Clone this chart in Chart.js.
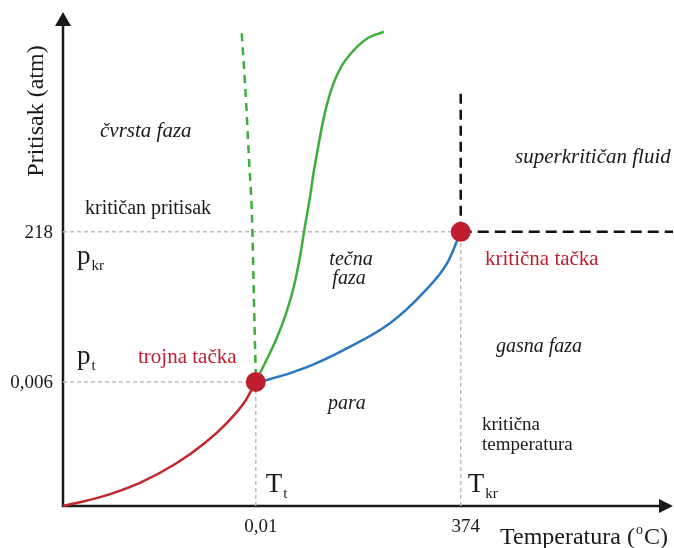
<!DOCTYPE html>
<html>
<head>
<meta charset="utf-8">
<script src="https://cdn.jsdelivr.net/npm/chart.js@4.4.1/dist/chart.umd.min.js"></script>
<style>
  html, body { margin: 0; padding: 0; background: #ffffff; }
  #wrap { width: 674px; height: 548px; position: relative; }
</style>
</head>
<body>
<div id="wrap"><canvas id="phase"></canvas></div>
<script>
// Schematic phase diagram of water; both axes run 0–100 in relative (not to scale) units.

// Characteristic points
const triplePoint = [{ x: 31.6, y: 25.1 }];
const criticalPoint = [{ x: 65.2, y: 55.5 }];

// Axis tick positions and their labels
const tempTickPos = [31.6, 65.2];
const tempTickLabels = ['0,01', '374'];
const pressTickPos = [55.5, 25.1];
const pressTickLabels = ['218', '0,006'];

// Sublimation curve (solid – vapour)
const sublimationCurve = [
  { x: 0, y: 0 }, { x: 6.1, y: 1.8 }, { x: 12.6, y: 4.7 }, { x: 18.4, y: 8.5 },
  { x: 23.3, y: 12.8 }, { x: 27.0, y: 17.0 }, { x: 29.8, y: 21.1 }, { x: 31.6, y: 25.1 }
];

// Vaporisation curve (liquid – vapour)
const vaporisationCurve = [
  { x: 31.6, y: 25.1 }, { x: 33.4, y: 25.5 }, { x: 40.0, y: 28.1 }, { x: 47.0, y: 32.2 },
  { x: 53.6, y: 37.0 }, { x: 59.0, y: 43.1 }, { x: 63.0, y: 49.2 }, { x: 65.2, y: 55.5 }
];

// Melting curve of an ordinary substance (solid – liquid)
const meltingCurve = [
  { x: 31.6, y: 25.1 }, { x: 33.1, y: 28.9 }, { x: 34.9, y: 33.6 }, { x: 36.6, y: 39.1 },
  { x: 37.9, y: 44.7 }, { x: 38.9, y: 50.8 }, { x: 39.7, y: 56.9 }, { x: 40.5, y: 62.6 },
  { x: 41.1, y: 67.6 }, { x: 41.8, y: 72.5 }, { x: 42.5, y: 77.1 }, { x: 43.3, y: 81.4 },
  { x: 44.3, y: 85.4 }, { x: 45.6, y: 88.9 }, { x: 47.4, y: 91.9 }, { x: 49.7, y: 94.5 },
  { x: 52.6, y: 96.0 }
];

// Melting curve of water (negative slope)
const waterMeltingCurve = [
  { x: 29.3, y: 95.7 }, { x: 30.0, y: 82.2 }, { x: 30.5, y: 70.0 },
  { x: 31.0, y: 57.9 }, { x: 31.3, y: 41.7 }, { x: 31.6, y: 26.5 }
];

// Boundaries of the supercritical region
const supercriticalTop = 84.2;
const supercriticalRight = 100;

const cp = criticalPoint[0];
const tp = triplePoint[0];

const guideStyle = { borderColor: '#bdbdbd', borderWidth: 1.5, borderDash: [4, 3] };
function guide(points) {
  return Object.assign({ data: points, showLine: true, pointRadius: 0, order: 4, clip: false }, guideStyle);
}
function curve(label, points, color, extra) {
  return Object.assign({
    label, data: points, showLine: true, pointRadius: 0, borderColor: color, borderWidth: 2.5,
    cubicInterpolationMode: 'monotone', order: 1, clip: false
  }, extra || {});
}

const SERIF = '"Liberation Serif", "Times New Roman", serif';

// Axes with arrow heads, tick labels and region annotations
const decorations = {
  id: 'decorations',
  beforeDatasetsDraw(chart) {
    const { ctx, chartArea: a } = chart;
    ctx.save();
    ctx.strokeStyle = '#1a1a1a';
    ctx.fillStyle = '#1a1a1a';
    ctx.lineWidth = 2.5;
    ctx.beginPath();
    ctx.moveTo(a.left, a.top + 12);
    ctx.lineTo(a.left, a.bottom);
    ctx.lineTo(a.right - 12, a.bottom);
    ctx.stroke();
    // arrow heads
    ctx.beginPath();
    ctx.moveTo(a.left, a.top);
    ctx.lineTo(a.left - 8, a.top + 14);
    ctx.lineTo(a.left + 8, a.top + 14);
    ctx.closePath();
    ctx.fill();
    ctx.beginPath();
    ctx.moveTo(a.right, a.bottom);
    ctx.lineTo(a.right - 14, a.bottom - 7);
    ctx.lineTo(a.right - 14, a.bottom + 7);
    ctx.closePath();
    ctx.fill();
    ctx.restore();
  },
  afterDraw(chart) {
    const { ctx, chartArea: a, scales } = chart;
    const xs = scales.x, ys = scales.y;
    ctx.save();
    ctx.textBaseline = 'alphabetic';
    const txt = (s, x, y, size, opts = {}) => {
      ctx.font = `${opts.italic ? 'italic ' : ''}${size}px ${SERIF}`;
      ctx.fillStyle = opts.color || '#1a1a1a';
      ctx.textAlign = opts.align || 'left';
      ctx.fillText(s, x, y);
      return ctx.measureText(s).width;
    };

    // tick labels
    tempTickPos.forEach((v, i) => {
      txt(tempTickLabels[i], xs.getPixelForValue(v) + 5, a.bottom + 26, 19, { align: 'center' });
    });
    pressTickPos.forEach((v, i) => {
      txt(pressTickLabels[i], a.left - 10, ys.getPixelForValue(v) + 6, 19, { align: 'right' });
    });

    // axis titles
    ctx.save();
    ctx.translate(a.left - 20, (a.top + a.bottom) / 2 - 148);
    ctx.rotate(-Math.PI / 2);
    txt('Pritisak (atm)', 0, 0, 24, { align: 'center' });
    ctx.restore();
    let x0 = 500, yb = 544;
    x0 += txt('Temperatura (', x0, yb, 24);
    ctx.font = `14px ${SERIF}`;
    ctx.textAlign = 'left';
    ctx.fillText('o', x0 + 1, yb - 10);
    x0 += ctx.measureText('o').width + 2;
    txt('C)', x0, yb, 24);

    // symbols with subscripts
    const sym = (main, sub, x, y) => {
      const w = txt(main, x, y, 27);
      txt(sub, x + w + 1, y + 6, 15);
    };
    const tx = xs.getPixelForValue(tp.x), ty = ys.getPixelForValue(tp.y);
    const cx = xs.getPixelForValue(cp.x), cy = ys.getPixelForValue(cp.y);
    sym('p', 'kr', a.left + 14, cy + 32);
    sym('p', 't', a.left + 14, ty - 18);
    sym('T', 't', tx + 10, a.bottom - 14);
    sym('T', 'kr', cx + 7, a.bottom - 14);

    // region and point labels
    txt('čvrsta faza', 100, 137, 21, { italic: true });
    txt('kritičan pritisak', 85, 214, 20);
    txt('superkritičan fluid', 515, 163, 21, { italic: true });
    txt('tečna', 351, 265, 20, { italic: true, align: 'center' });
    txt('faza', 349, 284, 20, { italic: true, align: 'center' });
    txt('kritična tačka', 485, 265, 21, { color: '#be1e2d' });
    txt('trojna tačka', 138, 363, 21, { color: '#be1e2d' });
    txt('gasna faza', 496, 352, 20, { italic: true });
    txt('para', 328, 409, 20, { italic: true });
    txt('kritična', 482, 430, 19);
    txt('temperatura', 482, 450, 19);
    ctx.restore();
  }
};

new Chart(document.getElementById('phase'), {
  type: 'scatter',
  data: {
    datasets: [
      { label: 'trojna tačka', data: triplePoint, pointRadius: 10, pointHoverRadius: 10,
        backgroundColor: '#be1e2d', borderWidth: 0, order: 0 },
      { label: 'kritična tačka', data: criticalPoint, pointRadius: 10, pointHoverRadius: 10,
        backgroundColor: '#be1e2d', borderWidth: 0, order: 0 },
      curve('sublimacija', sublimationCurve, '#c1272d'),
      curve('isparavanje', vaporisationCurve, '#2878c2'),
      curve('topljenje', meltingCurve, '#3cae3a'),
      curve('topljenje vode', waterMeltingCurve, '#3cae3a', { borderDash: [8, 6] }),
      { label: 'granica', data: [cp, { x: cp.x, y: supercriticalTop }], showLine: true, pointRadius: 0,
        borderColor: '#111111', borderWidth: 2.5, borderDash: [10, 6], order: 2, clip: false },
      { label: 'granica', data: [cp, { x: supercriticalRight, y: cp.y }], showLine: true, pointRadius: 0,
        borderColor: '#111111', borderWidth: 2.5, borderDash: [11, 6], order: 2, clip: false },
      guide([{ x: 0, y: pressTickPos[0] }, { x: cp.x, y: pressTickPos[0] }]),
      guide([{ x: 0, y: pressTickPos[1] }, { x: tp.x, y: pressTickPos[1] }]),
      guide([{ x: tempTickPos[0], y: 0 }, { x: tempTickPos[0], y: tp.y }]),
      guide([{ x: tempTickPos[1], y: 0 }, { x: tempTickPos[1], y: cp.y }])
    ]
  },
  options: {
    responsive: true,
    maintainAspectRatio: false,
    animation: false,
    events: [],
    layout: { autoPadding: false, padding: { left: 63, top: 12, right: 1, bottom: 42 } },
    plugins: { legend: { display: false }, tooltip: { enabled: false } },
    scales: {
      x: { type: 'linear', min: 0, max: 100, display: false },
      y: { type: 'linear', min: 0, max: 100, display: false }
    }
  },
  plugins: [decorations]
});
</script>
</body>
</html>
